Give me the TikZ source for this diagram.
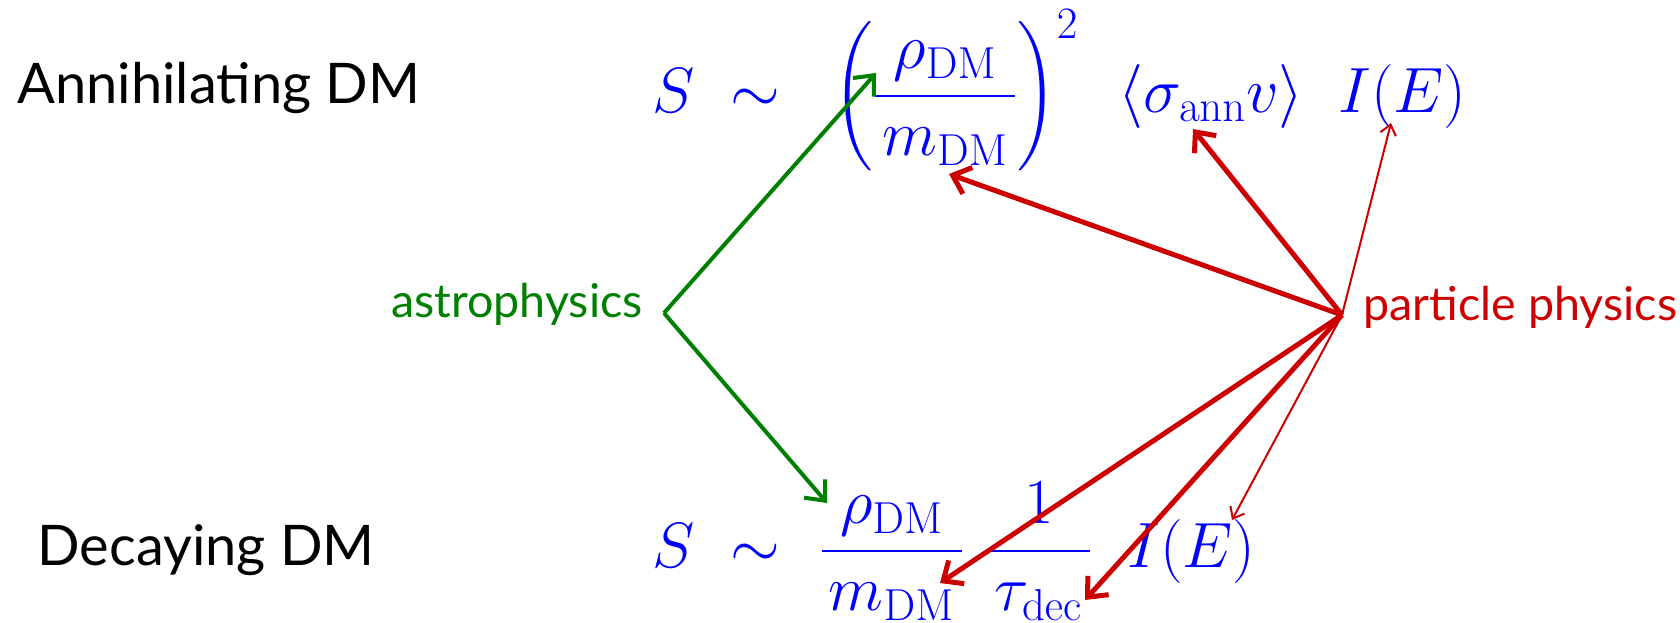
\RequirePackage{fix-cm}
\documentclass[tikz,border=0pt]{standalone}
\usepackage{exscale}
\usepackage[no-math]{fontspec}
\newfontfamily\tagfont{Lato}
\usepackage{tikz}
\usetikzlibrary{arrows.meta, positioning}
\definecolor{dmblue}{RGB}{0,0,255}
\definecolor{astrogreen}{RGB}{0,128,0}
\definecolor{ppred}{RGB}{204,0,0}
\tikzset{
  formula/.style={text=dmblue, inner sep=0pt, anchor=base west, font=\fontsize{32}{38}\selectfont},
  title/.style={inner sep=0pt, anchor=base west, font=\tagfont\fontsize{28}{34}\selectfont},
  field/.style={inner sep=0pt, font=\tagfont\fontsize{23.3}{28}\selectfont},
  greenarrow/.style={-{Straight Barb[length=8pt,width=14pt]}, line width=2pt, astrogreen},
  redarrow/.style={-{Straight Barb[length=8pt,width=14pt]}, line width=2.5pt, ppred},
  thinarrow/.style={-{Straight Barb[length=5pt,width=8pt]}, line width=1pt, ppred}
}
\newcommand{\DM}{\mathrm{DM}}
\newcommand{\dmfrac}{\frac{\rho_{\DM}}{\mkern2mu m_{\DM}\mkern2mu}}

\begin{document}
\begin{tikzpicture}[x=0.5pt,y=-0.5pt]
  \useasboundingbox (0,0) rectangle (1680,622);

  % row titles
  \node[title] (ann) at (17,103) {Annihilating DM};
  \node[title] (dec) at (37,565) {Decaying DM};

  % annihilation signal
  \node[formula] (annS) at (652,112) {$S$};
  \node[formula] (annsim) at (730,112) {$\sim$};
  \node[formula] (annrho) at (833,112) {$\displaystyle\left(\dmfrac\right)^{2}$};
  \node[formula] (annsig) at (1118,112) {$\langle\sigma_{\mathrm{ann}}v\rangle$};
  \node[formula] (annI) at (1338,112) {$I(E)$};

  % decay signal
  \node[formula] (decS) at (652,567) {$S$};
  \node[formula] (decsim) at (730,567) {$\sim$};
  \node[formula] (decrho) at (819,567) {$\displaystyle\dmfrac$};
  \node[formula] (dectau) at (985,567) {$\displaystyle\frac{1}{\mkern2mu\tau_{\mathrm{dec}}\mkern2mu}$};
  \node[formula] (decI) at (1127,567) {$I(E)$};

  % the two inputs
  \node[field, text=astrogreen, anchor=base east] (astro) at (643,317) {astrophysics};
  \node[field, text=ppred, anchor=base west] (part) at (1363,320) {particle physics};
  \coordinate (astrotip) at ([shift={(21,-4)}]astro.base east);
  \coordinate (parttip) at ([shift={(-21,-5)}]part.base west);

  \draw[greenarrow] (astrotip) -- ([shift={(43,-39)}]annrho.base west);
  \draw[greenarrow] (astrotip) -- ([shift={(8,-64)}]decrho.base west);

  \draw[redarrow] (parttip) -- ([shift={(116,62)}]annrho.base west);
  \draw[redarrow] (parttip) -- ([shift={(75,17)}]annsig.base west);
  \draw[thinarrow] (parttip) -- ([shift={(53,11)}]annI.base west);
  \draw[redarrow] (parttip) -- ([shift={(121,16)}]decrho.base west);
  \draw[redarrow] (parttip) -- ([shift={(100,33)}]dectau.base west);
  \draw[thinarrow] (parttip) -- ([shift={(105,-47)}]decI.base west);
\end{tikzpicture}
\end{document}
